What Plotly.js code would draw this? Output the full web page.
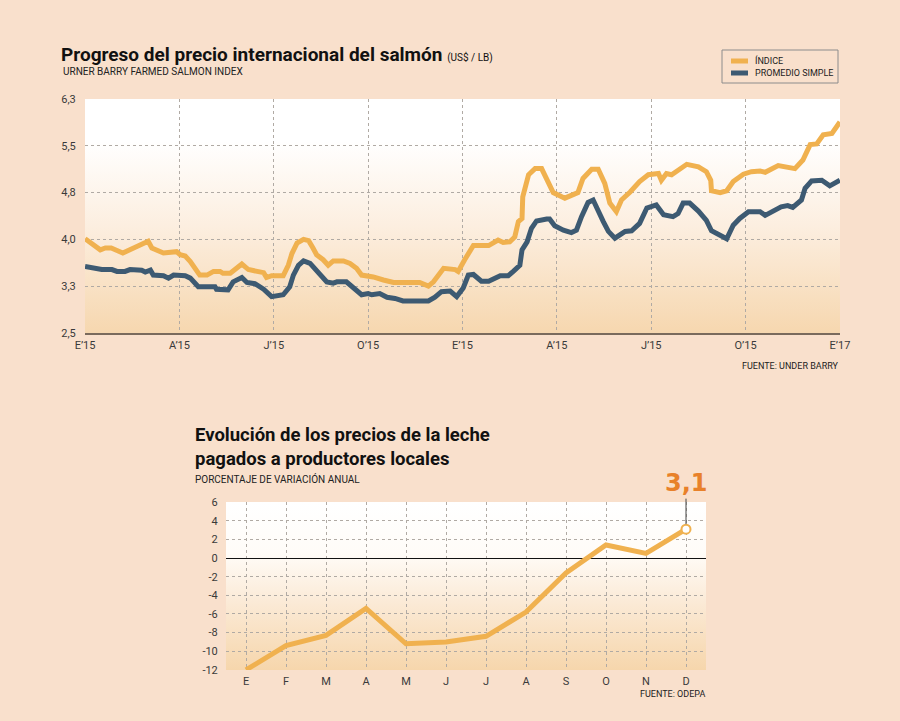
<!DOCTYPE html>
<html>
<head>
<meta charset="utf-8">
<script src="https://cdn.plot.ly/plotly-3.0.1.min.js"></script>
<style>
html,body{margin:0;padding:0;background:#F9E0CC;}
#chart{width:900px;height:721px;}
</style>
</head>
<body>
<div id="chart"></div>
<script>
// ---- Salmon index (weekly, Jan 2015 = week 0 ... Jan 2017 = week 104) ----
const semanasIndice = [0,2.1,2.8,3.6,4.4,5.2,8.7,9.2,10.8,12.6,13.1,13.8,14.5,15.8,16.8,17.7,18.6,19.0,20.0,21.6,22.5,23.9,24.6,25.0,25.7,27.3,28.0,28.5,29.2,30.1,30.8,31.4,31.9,32.8,33.5,34.2,35.6,36.5,37.4,38.1,39.7,41.1,42.5,46.1,47.3,48.0,49.4,51.0,51.4,52.3,53.5,55.6,56.9,57.6,58.5,59.2,59.7,60.2,60.3,61.1,62.0,62.9,63.8,64.5,66.1,67.0,67.9,68.6,69.8,70.7,71.6,72.3,73.2,73.9,75.1,76.4,77.6,79.0,79.4,80.1,80.8,82.9,84.5,85.6,86.2,86.3,87.5,88.4,89.3,90.7,91.8,93.0,93.7,95.5,97.8,98.9,99.9,100.8,101.7,102.9,104.0];
const indice = [4.03,3.85,3.88,3.88,3.84,3.80,3.99,3.88,3.80,3.82,3.77,3.75,3.66,3.44,3.44,3.50,3.50,3.47,3.47,3.62,3.53,3.50,3.48,3.40,3.43,3.43,3.60,3.79,3.96,4.02,4.00,3.88,3.77,3.69,3.60,3.67,3.67,3.63,3.55,3.44,3.41,3.36,3.32,3.32,3.26,3.33,3.55,3.53,3.50,3.69,3.92,3.92,4.01,3.97,3.98,4.06,4.31,4.36,4.71,5.07,5.17,5.17,4.96,4.78,4.69,4.74,4.78,5.01,5.16,5.16,4.93,4.61,4.47,4.66,4.79,4.96,5.07,5.09,4.98,5.09,5.07,5.24,5.20,5.12,4.98,4.81,4.78,4.81,4.96,5.08,5.12,5.13,5.11,5.22,5.17,5.31,5.56,5.57,5.72,5.74,5.93];
const semanasPromedio = [0,1.6,2.3,3.7,4.4,5.5,6.2,7.8,8.3,9.0,9.4,10.8,11.5,12.2,13.8,14.5,15.6,17.9,18.1,19.7,20.4,21.6,22.3,23.4,24.6,25.7,27.3,28.2,28.7,29.4,30.1,31.0,31.9,33.3,34.2,34.7,36.0,37.0,38.1,39.0,39.5,40.6,41.6,42.7,43.8,47.3,48.2,49.1,50.3,51.2,52.1,52.8,53.5,54.6,55.6,57.2,58.3,59.0,59.9,60.2,60.9,61.5,62.2,63.6,64.0,64.7,65.9,67.0,67.7,68.4,69.3,70.0,70.7,71.4,72.1,73.0,74.4,75.3,76.4,77.4,78.7,79.7,81.0,81.7,82.4,83.3,84.5,85.6,86.3,87.2,88.4,89.3,90.2,91.4,93.0,93.7,94.8,95.9,96.8,97.5,98.7,99.2,100.1,101.5,102.6,104.0];
const promedio = [3.58,3.55,3.53,3.53,3.50,3.50,3.53,3.52,3.49,3.52,3.44,3.43,3.39,3.44,3.43,3.39,3.25,3.25,3.21,3.20,3.33,3.40,3.32,3.30,3.21,3.09,3.12,3.25,3.44,3.60,3.67,3.63,3.52,3.33,3.31,3.33,3.33,3.24,3.12,3.14,3.12,3.14,3.08,3.06,3.02,3.02,3.08,3.17,3.18,3.09,3.23,3.44,3.45,3.34,3.34,3.43,3.43,3.50,3.60,3.85,3.98,4.20,4.32,4.35,4.35,4.24,4.17,4.13,4.17,4.39,4.62,4.66,4.47,4.31,4.15,4.04,4.15,4.16,4.28,4.53,4.58,4.42,4.39,4.44,4.61,4.61,4.48,4.33,4.16,4.10,4.03,4.25,4.36,4.47,4.47,4.41,4.48,4.55,4.57,4.54,4.66,4.85,4.97,4.98,4.89,4.98];
const salmonTickVals = [0,13,26,39,52,65,78,91,104];
const salmonTickText = ["E’15","A’15","J’15","O’15","E’15","A’15","J’15","O’15","E’17"];
const salmonYVals = [2.5,3.26,4.02,4.78,5.54,6.3];
const salmonYText = ["2,5","3,3","4,0","4,8","5,5","6,3"];
const serieNombres = ["ÍNDICE","PROMEDIO SIMPLE"];

// ---- Milk prices (annual % change) ----
const meses = ["E","F","M","A","M","J","J","A","S","O","N","D"];
const leche = [-12.0,-9.4,-8.3,-5.4,-9.2,-9.0,-8.4,-5.8,-1.6,1.4,0.5,3.1];
const lecheYVals = [-12,-10,-8,-6,-4,-2,0,2,4,6];
const lecheYText = ["-12","-10","-8","-6","-4","-2","0","2","4","6"];

const W = 900, H = 721;
const px = v => v / W;
const py = v => (H - v) / H;

const ORANGE = '#F0B14F';
const BLUE = '#3D5A72';
const FONT = 'Roboto, "Liberation Sans", sans-serif';
const GRID = '#b0aaa4';

function grad(stops){
  const s = stops.map(([o,c]) => `<stop offset="${o}" stop-color="${c}"/>`).join('');
  const svg = `<svg xmlns="http://www.w3.org/2000/svg" width="100" height="100" viewBox="0 0 100 100" preserveAspectRatio="none"><defs><linearGradient id="g" x1="0" y1="0" x2="0" y2="1">${s}</linearGradient></defs><rect width="100" height="100" fill="url(#g)"/></svg>`;
  return 'data:image/svg+xml;charset=utf-8,' + encodeURIComponent(svg);
}

const mesIdx = meses.map((m, i) => i);
const last = leche.length - 1;

const traces = [
  {x: semanasIndice, y: indice, type:'scatter', mode:'lines', name: serieNombres[0],
   line:{color:ORANGE, width:5}, xaxis:'x', yaxis:'y', hoverinfo:'skip'},
  {x: semanasPromedio, y: promedio, type:'scatter', mode:'lines', name: serieNombres[1],
   line:{color:BLUE, width:5}, xaxis:'x', yaxis:'y', hoverinfo:'skip'},
  {x: mesIdx, y: leche, type:'scatter', mode:'lines', name:'Leche',
   line:{color:ORANGE, width:5}, xaxis:'x2', yaxis:'y2', hoverinfo:'skip'},
  {x: [mesIdx[last]], y: [leche[last]], type:'scatter', mode:'markers', name:'Dic',
   marker:{size:9, color:'#ffffff', line:{color:ORANGE, width:2}}, xaxis:'x2', yaxis:'y2', hoverinfo:'skip'}
];

const tickFont = {family: FONT, size: 11, color:'#3a3a3a'};

const legendShapes = [
  {type:'rect', xref:'paper', yref:'paper', x0:px(722), x1:px(838), y0:py(83), y1:py(50),
   line:{color:'#8c8c8c', width:1}, fillcolor:'rgba(0,0,0,0)'},
  {type:'line', xref:'paper', yref:'paper', x0:px(731), x1:px(748), y0:py(61), y1:py(61),
   line:{color:ORANGE, width:5}},
  {type:'line', xref:'paper', yref:'paper', x0:px(731), x1:px(748), y0:py(73), y1:py(73),
   line:{color:BLUE, width:5}}
];

const layout = {
  width: W, height: H,
  margin:{l:0,r:0,t:0,b:0},
  paper_bgcolor:'#F9E0CC',
  plot_bgcolor:'rgba(0,0,0,0)',
  font:{family: FONT, color:'#222'},
  title:{
    text:'Progreso del precio internacional del salmón <span style="font-size:10px;font-weight:normal">(US$ / LB)</span>',
    font:{family: FONT, size:19, weight:'bold', color:'#111'},
    x: px(61), xanchor:'left', xref:'paper',
    y: py(54), yanchor:'middle', yref:'paper'
  },
  showlegend: false,
  shapes: legendShapes,
  xaxis:{
    domain:[px(85), px(840)], anchor:'y',
    range:[-0.01, 104.01],
    tickmode:'array', tickvals: salmonTickVals, ticktext: salmonTickText,
    showgrid:true, gridcolor:GRID, griddash:'dot', gridwidth:1,
    zeroline:false, showline:true, linecolor:'#7a6a5c', linewidth:2,
    ticks:'outside', ticklen:1, tickcolor:'rgba(0,0,0,0)',
    tickfont: tickFont, fixedrange:true
  },
  yaxis:{
    domain:[py(333), py(99)], anchor:'x',
    range:[2.499, 6.301],
    tickmode:'array', tickvals: salmonYVals, ticktext: salmonYText,
    showgrid:true, gridcolor:GRID, griddash:'dot', gridwidth:1,
    zeroline:false, showline:false,
    ticks:'outside', ticklen:6, tickcolor:'rgba(0,0,0,0)',
    tickfont: tickFont, fixedrange:true
  },
  xaxis2:{
    domain:[px(226), px(706)], anchor:'y2',
    range:[-0.5, 11.5],
    tickmode:'array', tickvals: mesIdx, ticktext: meses,
    showgrid:true, gridcolor:GRID, griddash:'dot', gridwidth:1,
    zeroline:false, showline:false,
    ticks:'outside', ticklen:1, tickcolor:'rgba(0,0,0,0)',
    tickfont: tickFont, fixedrange:true
  },
  yaxis2:{
    domain:[py(670), py(502)], anchor:'x2',
    range:[-12.01, 6.01],
    tickmode:'array', tickvals: lecheYVals, ticktext: lecheYText,
    showgrid:true, gridcolor:GRID, griddash:'dot', gridwidth:1,
    zeroline:true, zerolinecolor:'#111', zerolinewidth:1,
    showline:false,
    ticks:'outside', ticklen:5, tickcolor:'rgba(0,0,0,0)',
    tickfont: tickFont, fixedrange:true
  },
  images:[
    {source: grad([[0,'#ffffff'],[0.18,'#ffffff'],[0.55,'#FCEEDF'],[1,'#F6D7AF']]),
     xref:'paper', yref:'paper', x:px(85), y:py(99), sizex:755/W, sizey:234/H,
     xanchor:'left', yanchor:'top', sizing:'stretch', layer:'below'},
    {source: grad([[0,'#ffffff'],[0.3,'#FFFCF8'],[0.6,'#FBEAD6'],[1,'#F6D6AC']]),
     xref:'paper', yref:'paper', x:px(226), y:py(502), sizex:480/W, sizey:168/H,
     xanchor:'left', yanchor:'top', sizing:'stretch', layer:'below'}
  ],
  annotations:[
    {text: serieNombres[0], xref:'paper', yref:'paper', x:px(753), y:py(61),
     xanchor:'left', yanchor:'middle', showarrow:false,
     font:{family:FONT, size:9, color:'#222'}},
    {text: serieNombres[1], xref:'paper', yref:'paper', x:px(753), y:py(73),
     xanchor:'left', yanchor:'middle', showarrow:false,
     font:{family:FONT, size:9, color:'#222'}},
    {text:'URNER BARRY FARMED SALMON INDEX', xref:'paper', yref:'paper',
     x:px(61), y:py(72), xanchor:'left', yanchor:'middle', showarrow:false,
     font:{family:FONT, size:10, color:'#222'}},
    {text:'FUENTE: UNDER BARRY', xref:'paper', yref:'paper',
     x:px(841), y:py(366), xanchor:'right', yanchor:'middle', showarrow:false,
     font:{family:FONT, size:9, color:'#222'}},
    {text:'Evolución de los precios de la leche<br>pagados a productores locales', xref:'paper', yref:'paper',
     x:px(193), y:py(447), xanchor:'left', yanchor:'middle', align:'left', showarrow:false,
     font:{family:FONT, size:18.5, weight:'bold', color:'#111'}},
    {text:'PORCENTAJE DE VARIACIÓN ANUAL', xref:'paper', yref:'paper',
     x:px(193), y:py(479), xanchor:'left', yanchor:'middle', showarrow:false,
     font:{family:FONT, size:10, color:'#222'}},
    {text:'FUENTE: ODEPA', xref:'paper', yref:'paper',
     x:px(707), y:py(694), xanchor:'right', yanchor:'middle', showarrow:false,
     font:{family:FONT, size:9, color:'#222'}},
    {text: String(leche[last]).replace('.', ','), xref:'x2', yref:'y2',
     x: mesIdx[last], y: leche[last], showarrow:true, arrowhead:0, arrowwidth:1,
     arrowcolor:'#444', ax:0, ay:-46, standoff:5,
     font:{family:'"DejaVu Sans", sans-serif', size:24, weight:'bold', color:'#E8812A'}}
  ]
};

Plotly.newPlot('chart', traces, layout, {displayModeBar:false, staticPlot:true});
</script>
</body>
</html>
